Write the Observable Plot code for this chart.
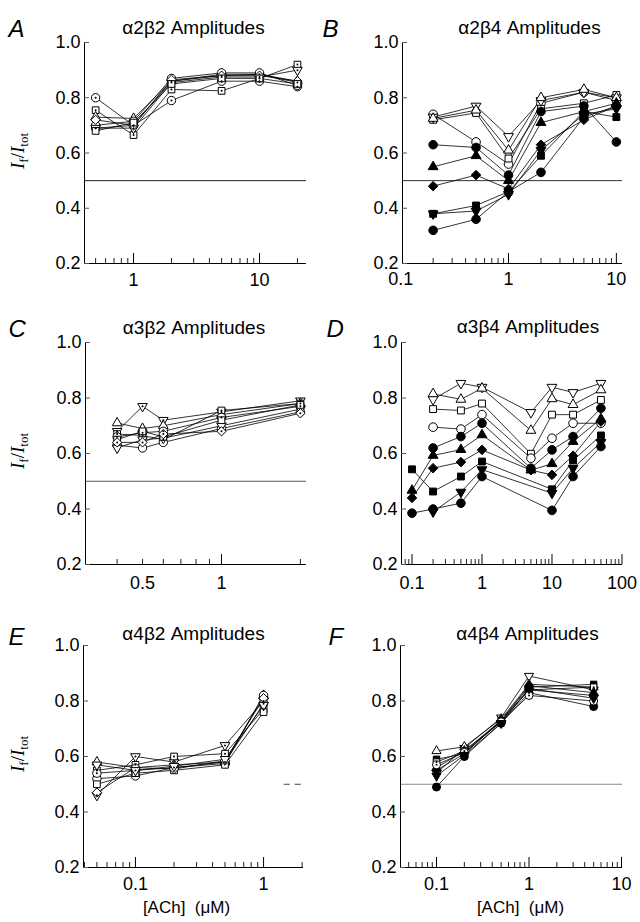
<!DOCTYPE html>
<html><head><meta charset="utf-8">
<script src="https://cdn.jsdelivr.net/npm/d3@7"></script>
<script src="https://cdn.jsdelivr.net/npm/@observablehq/plot@0.6"></script>
<style>
body{margin:0;background:#fff;}
#fig{position:relative;width:640px;height:922px;overflow:hidden;background:#fff;}
.panel{position:absolute;}
.ylab{position:absolute;transform:translate(-50%,-50%) rotate(-90deg);font-family:"Liberation Serif","DejaVu Serif",serif;font-size:19px;white-space:nowrap;color:#000;line-height:1;}
.ylab i{font-style:italic;}
.ylab sub{font-size:13px;font-style:normal;}
</style></head><body><div id="fig"></div>
<script>
// ---------------- data ----------------
const titles = ["α2β2 Amplitudes","α2β4 Amplitudes","α3β2 Amplitudes","α3β4 Amplitudes","α4β2 Amplitudes","α4β4 Amplitudes"];
const letters = ["A","B","C","D","E","F"];
const yTicks = [0.2, 0.4, 0.6, 0.8, 1.0];
const xLabel = "[ACh]\u00a0\u00a0(μM)";
const refLevel = 0.5;
const refE = [1.45, 2.05];

const xA = [0.5, 1, 2, 5, 10, 20];
const markA = ["o.","s.","t","o","v.","d","s","o."];
const yA = [
  [0.80, 0.70, 0.79, 0.86, 0.86, 0.84],
  [0.755, 0.665, 0.83, 0.825, 0.87, 0.92],
  [0.73, 0.725, 0.86, 0.885, 0.885, 0.86],
  [0.70, 0.715, 0.87, 0.89, 0.89, 0.845],
  [0.69, 0.69, 0.855, 0.875, 0.875, 0.90],
  [0.72, 0.70, 0.865, 0.88, 0.88, 0.86],
  [0.68, 0.71, 0.85, 0.87, 0.87, 0.85],
  [0.69, 0.70, 0.86, 0.88, 0.885, 0.855]
];
const labelsA = [1, 10];

const xB = [0.2, 0.5, 1, 2, 5, 10];
const markB = ["o","s","v","t","O","T","D","S","O","V"];
const yB = [
  [0.74, 0.64, 0.56, 0.78, 0.82, 0.79],
  [0.72, 0.745, 0.58, 0.76, 0.78, 0.81],
  [0.73, 0.77, 0.66, 0.79, 0.82, 0.80],
  [0.725, 0.755, 0.61, 0.80, 0.83, 0.80],
  [0.63, 0.62, 0.52, 0.75, 0.77, 0.64],
  [0.55, 0.59, 0.50, 0.71, 0.75, 0.78],
  [0.48, 0.52, 0.47, 0.63, 0.72, 0.77],
  [0.38, 0.41, 0.46, 0.59, 0.75, 0.73],
  [0.32, 0.36, 0.46, 0.53, 0.73, 0.77],
  [0.38, 0.39, 0.45, 0.61, 0.74, 0.76]
];
const labelsB = [0.1, 1, 10];

const xC = [0.4, 0.5, 0.6, 1, 2];
const markC = ["v.","t","s.","o.","o","v","s","d."];
const yC = [
  [0.68, 0.77, 0.72, 0.75, 0.79],
  [0.71, 0.69, 0.70, 0.74, 0.78],
  [0.67, 0.665, 0.65, 0.755, 0.78],
  [0.66, 0.675, 0.68, 0.73, 0.77],
  [0.63, 0.62, 0.64, 0.69, 0.75],
  [0.62, 0.65, 0.655, 0.70, 0.76],
  [0.65, 0.68, 0.66, 0.72, 0.775],
  [0.64, 0.64, 0.67, 0.68, 0.745]
];
const labelsC = [0.5, 1];

const xD = [0.1, 0.2, 0.5, 1, 5, 10, 20, 50];
const markD = ["v","t","s","o","O","T","D","S","V","O"];
const yD = [
  [null, 0.795, 0.853, 0.839, 0.748, 0.839, 0.82, 0.853],
  [null, 0.815, 0.795, 0.835, 0.683, 0.797, 0.776, 0.829],
  [null, 0.76, 0.755, 0.78, 0.599, 0.74, 0.74, 0.793],
  [null, 0.695, 0.688, 0.74, 0.583, 0.655, 0.709, 0.709],
  [null, 0.62, 0.661, 0.709, 0.547, 0.613, 0.661, 0.763],
  [0.467, 0.593, 0.614, 0.667, 0.54, 0.563, 0.643, 0.725],
  [0.44, 0.547, 0.569, 0.613, 0.54, 0.523, 0.592, 0.715],
  [0.543, 0.463, 0.517, 0.571, null, 0.471, 0.575, 0.665],
  [null, 0.39, 0.461, 0.542, null, 0.457, 0.547, 0.64],
  [0.385, 0.40, 0.421, 0.517, null, 0.395, 0.517, 0.625]
];
const labelsD = [0.1, 1, 10, 100];

const xE = [0.05, 0.1, 0.2, 0.5, 1];
const markE = ["v.","t","s.","o","o.","s","d","v"];
const yE = [
  [0.46, 0.60, 0.58, 0.64, 0.80],
  [0.58, 0.56, 0.57, 0.58, 0.82],
  [0.55, 0.57, 0.60, 0.61, 0.77],
  [0.52, 0.53, 0.56, 0.575, 0.82],
  [0.54, 0.55, 0.56, 0.58, 0.79],
  [0.50, 0.54, 0.55, 0.57, 0.76],
  [0.47, 0.56, 0.555, 0.585, 0.81],
  [0.57, 0.55, 0.565, 0.59, 0.785]
];
const labelsE = [0.1, 1];

const xF = [0.1, 0.2, 0.5, 1, 5];
const markF = ["v","t","S","s.","O","D","T","o.","V"];
const yF = [
  [0.54, 0.63, 0.74, 0.89, 0.84],
  [0.62, 0.635, 0.735, 0.86, 0.85],
  [0.59, 0.61, 0.73, 0.85, 0.86],
  [0.58, 0.62, 0.725, 0.84, 0.85],
  [0.49, 0.60, 0.72, 0.83, 0.78],
  [0.55, 0.61, 0.73, 0.84, 0.82],
  [0.56, 0.62, 0.73, 0.855, 0.83],
  [0.57, 0.615, 0.725, 0.82, 0.80],
  [0.53, 0.605, 0.72, 0.845, 0.81]
];
const labelsF = [0.1, 1, 10];

// ---------------- layout ----------------
const panels = [
  {i:0, x:xA, mk:markA, ys:yA, labels:labelsA, left:0,   top:0,   w:320, h:300, mL:84, mR:14, mT:42, mB:37, dom:[0.408,23.6], ref:"#222", tp:10, tdx:-2, tdy:-22, ldx:-76, ldy:-23, r:4.2, ylab:true},
  {i:1, x:xB, mk:markB, ys:yB, labels:labelsB, left:320, top:0,   w:320, h:300, mL:82, mR:18, mT:42, mB:37, dom:[0.104,11.4], ref:"#333", tp:9,  tdx:17, tdy:-22, ldx:-80, ldy:-23, r:4.3},
  {i:2, x:xC, mk:markC, ys:yC, labels:labelsC, left:0,   top:300, w:320, h:300, mL:85, mR:14, mT:42, mB:36, dom:[0.303,2.11], ref:"#555", tp:12, tdx:-2, tdy:-22, ldx:-77, ldy:-23, r:4.2, ylab:true},
  {i:3, x:xD, mk:markD, ys:yD, labels:labelsD, left:320, top:300, w:320, h:300, mL:81, mR:18, mT:42, mB:36, dom:[0.0708,101.7], ref:null, tp:12, tdx:16, tdy:-23, ldx:-75, ldy:-23, r:4.3},
  {i:4, x:xE, mk:markE, ys:yE, labels:labelsE, left:0,   top:602, w:320, h:320, mL:83, mR:17, mT:43, mB:55, dom:[0.0393,2.05], ref:"dash", tp:10, tdx:0,  tdy:-19, ldx:-75, ldy:-18, r:4.2, ylab:true, xlab:true, xdx:-7},
  {i:5, x:xF, mk:markF, ys:yF, labels:labelsF, left:320, top:602, w:320, h:320, mL:80, mR:18, mT:43, mB:55, dom:[0.0408,10.25], ref:"#888", tp:10, tdx:16, tdy:-19, ldx:-72, ldy:-18, r:4, xlab:true, xdx:9}
];

const sqrt3 = Math.sqrt(3);
const triangleDown = {draw(ctx, size){ const y = -Math.sqrt(size/(sqrt3*3)); ctx.moveTo(0,-y*2); ctx.lineTo(-sqrt3*y, y); ctx.lineTo(sqrt3*y, y); ctx.closePath(); }};
const shapes = {o:"circle", s:"square", t:"triangle", v:triangleDown, d:"diamond2"};

function rows(xs, mks, ys){
  const out = [];
  ys.forEach((arr, s) => arr.forEach((v, k) => { if (v != null) out.push({s, x: xs[k], y: v, mk: mks[s]}); }));
  return out;
}

const fig = document.getElementById("fig");
for (const p of panels) {
  const data = rows(p.x, p.mk, p.ys);
  const innerW = p.w - p.mL - p.mR, innerH = p.h - p.mT - p.mB;
  const all = d3.scaleLog().domain(p.dom).ticks();
  const decades = all.filter(t => Math.abs(Math.log10(t) - Math.round(Math.log10(t))) < 1e-9);
  const minor = all.filter(t => !decades.includes(t));
  const kinds = [...new Set(p.mk)];
  const dots = kinds.map(k => {
    const sh = k[0].toLowerCase();
    const filled = k[0] !== sh;
    const rr = (sh === "t" || sh === "v") ? p.r * 0.85 : (sh === "s" ? p.r*0.9 : p.r);
    return Plot.dot(data.filter(d => d.mk === k), {x:"x", y:"y", symbol: shapes[sh], r: rr, fill: filled ? "#000" : "#fff", stroke:"#000", strokeWidth: 1});
  });
  const centers = Plot.dot(data.filter(d => d.mk.endsWith(".")), {x:"x", y:"y", r:1, fill:"#000", stroke:"none"});
  const marks = [];
  if (p.ref === "dash") marks.push(Plot.ruleY([refLevel], {x1: refE[0], x2: refE[1], stroke:"#444", strokeWidth:1, strokeDasharray:"6,5"}));
  else if (p.ref) marks.push(Plot.ruleY([refLevel], {stroke: p.ref, strokeWidth: 1}));
  marks.push(
    Plot.ruleY([0.2], {stroke:"#000", strokeWidth:1}),
    Plot.ruleX([p.dom[0]], {stroke:"#000", strokeWidth:1}),
    Plot.tickX(minor, {x: d => d, insetTop: innerH - 5, stroke:"#222", strokeWidth:1}),
    Plot.tickX(decades, {x: d => d, insetTop: innerH - 10, stroke:"#000", strokeWidth:1}),
    Plot.tickY(yTicks, {y: d => d, insetRight: innerW - 5, stroke:"#555", strokeWidth:1}),
    Plot.text(p.labels, {x: d => d, frameAnchor:"bottom", lineAnchor:"top", dy:p.tp, fontSize:18, text: d => String(d)}),
    Plot.axisY(yTicks, {tickSize:0, tickPadding:4, tickFormat: d => d.toFixed(1), fontSize:18, label:null}),
    Plot.line(data, {x:"x", y:"y", z:"s", stroke:"#000", strokeWidth:0.8}),
    ...dots,
    centers,
    Plot.text([titles[p.i]], {frameAnchor:"top", dx:p.tdx, dy:p.tdy, fontSize:19, text: d => d}),
    Plot.text([letters[p.i]], {frameAnchor:"top-left", textAnchor:"start", dx:p.ldx, dy:p.ldy, fontSize:24, fontStyle:"italic", text: d => d})
  );
  if (p.xlab) marks.push(Plot.text([xLabel], {frameAnchor:"bottom", dx:p.xdx, dy:45, fontSize:17, text: d => d}));
  const chart = Plot.plot({
    width: p.w, height: p.h,
    marginLeft: p.mL, marginRight: p.mR, marginTop: p.mT, marginBottom: p.mB,
    x: {type:"log", domain: p.dom, label: null, axis: null},
    y: {domain: [0.2, 1.0], label: null},
    style: {fontFamily: "'Liberation Sans', Arial, Helvetica, sans-serif", fontSize: "18px", background: "transparent", overflow: "visible", color: "#000"},
    marks
  });
  const wrap = document.createElement("div");
  wrap.className = "panel";
  wrap.style.left = p.left + "px";
  wrap.style.top = p.top + "px";
  wrap.appendChild(chart);
  fig.appendChild(wrap);
  if (p.ylab) {
    const yl = document.createElement("div");
    yl.className = "ylab";
    yl.style.left = "19px";
    yl.style.top = (p.top + p.mT + innerH / 2 - 2) + "px";
    yl.innerHTML = "<i>I</i><sub>f</sub>/<i>I</i><sub>tot</sub>";
    fig.appendChild(yl);
  }
}
</script></body></html>
